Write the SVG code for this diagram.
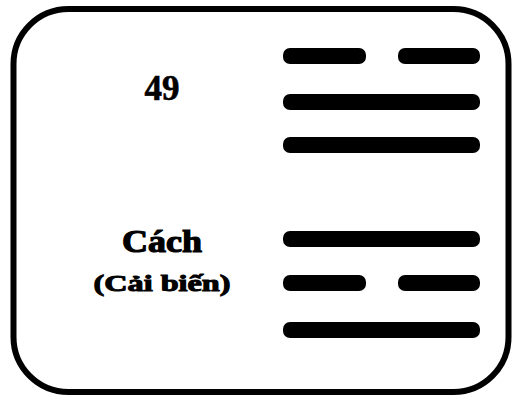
<svg xmlns="http://www.w3.org/2000/svg" width="512" height="401" viewBox="0 0 512 401">
<style>
.bar{fill:#000}
.t{font-family:"Liberation Serif","Times New Roman",serif;font-weight:bold;fill:#000;text-anchor:middle;stroke:#000}
</style>
<rect width="512" height="401" fill="#fff"/>
<g id="frame"><rect x="13.5" y="9" width="495" height="383" rx="55" ry="55" fill="none" stroke="#000" stroke-width="6"/></g>
<g id="labels">
<text class="t" x="162" y="100" font-size="35" stroke-width="0.6">49</text>
<text class="t" x="162" y="252" font-size="32" stroke-width="1.2" textLength="80" lengthAdjust="spacingAndGlyphs">Cách</text>
<text class="t" x="162" y="291" font-size="23" stroke-width="1" textLength="137" lengthAdjust="spacingAndGlyphs">(Cải biến)</text>
</g>
<g id="hexagram">
<rect class="bar" x="283" y="48" width="83" height="16" rx="7"/>
<rect class="bar" x="398" y="48" width="82" height="16" rx="7"/>
<rect class="bar" x="283" y="94" width="197" height="16" rx="7"/>
<rect class="bar" x="283" y="137" width="197" height="16" rx="7"/>
<rect class="bar" x="283" y="231" width="197" height="16" rx="7"/>
<rect class="bar" x="283" y="275" width="83" height="16" rx="7"/>
<rect class="bar" x="398" y="275" width="82" height="16" rx="7"/>
<rect class="bar" x="283" y="322" width="197" height="16" rx="7"/>
</g>
</svg>
